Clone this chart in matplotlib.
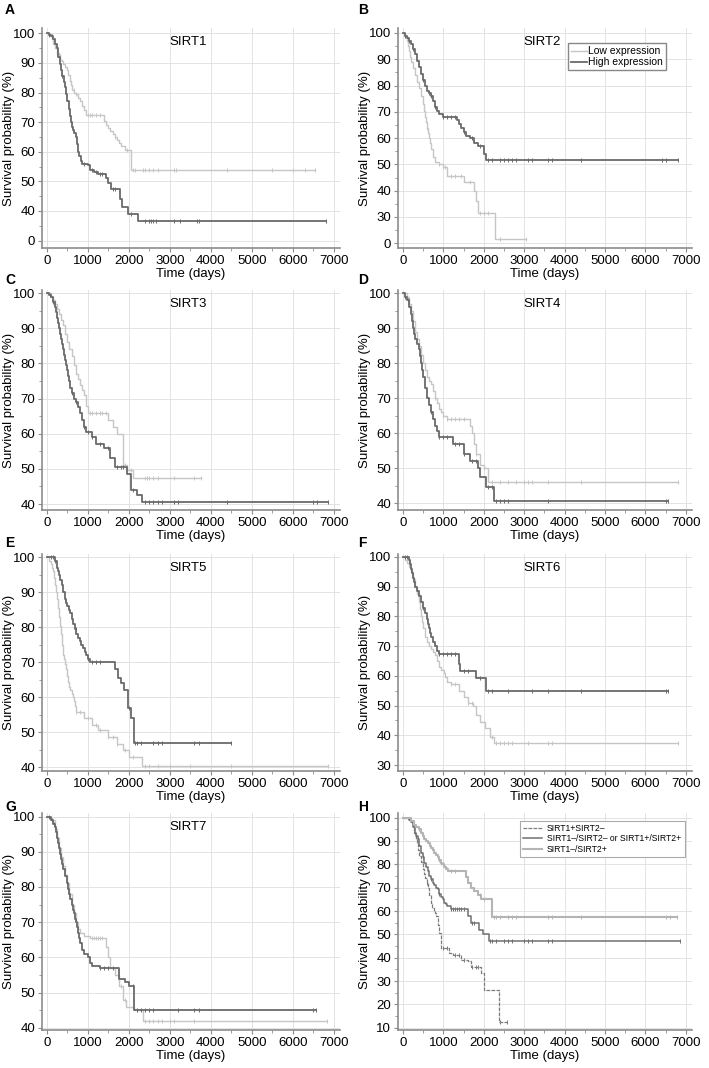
import numpy as np
import matplotlib.pyplot as plt
from matplotlib.ticker import MultipleLocator

plt.rcParams['font.family'] = ['Liberation Sans', 'DejaVu Sans']

LOW = '#c6c6c6'
HIGH = '#6a6a6a'

# ---------------- A: SIRT1
a_low_t = [0, 80, 120, 160, 200, 250, 320, 360, 400, 440, 480, 520, 560, 590, 620, 660, 700, 750, 800, 850, 900, 960,
           1400, 1450, 1500, 1550, 1600, 1650, 1700, 1750, 1800, 1900, 2050, 6550]
a_low_s = [100, 99, 98, 96.5, 95, 93, 91, 90.5, 89.5, 88.5, 87.5, 86, 84, 82.5, 81, 80, 79.5, 78, 77, 75.5, 74, 72.5,
           70.5, 69, 68, 67, 66, 65, 64, 63, 62, 60.5, 54, 54]
a_low_c = [300, 650, 700, 1000, 1050, 1100, 1200, 1300, 1650, 1950, 2100, 2150, 2350, 2400, 2500, 2600, 2700, 3100, 3150,
           4400, 5500, 6000, 6300, 6550]
a_high_t = [0, 50, 100, 150, 200, 240, 280, 320, 350, 380, 410, 440, 470, 500, 530, 560, 580, 610, 640, 670, 700, 730,
            760, 790, 820, 860, 1000, 1050, 1150, 1250, 1450, 1500, 1560, 1780, 1820, 1980, 2220, 6800]
a_high_s = [100, 99.5, 99, 98, 96.5, 95, 92, 89.5, 87.5, 85.5, 83.5, 82, 79.5, 77, 74.5, 72, 70, 68.5, 67.5, 66.5, 65,
            62.5, 60, 58.5, 57, 56, 55.5, 54, 53, 52.5, 51, 49.5, 47.5, 44, 41.5, 39, 36.5, 36.5]
a_high_c = [60, 120, 380, 640, 700, 900, 1100, 1200, 1300, 1350, 1600, 1650, 2050, 2400, 2500, 2550, 2600, 2650, 3100,
            3250, 3650, 3700, 6800]

# ---------------- B: SIRT2
b_low_t = [0, 60, 100, 125, 150, 175, 200, 250, 300, 350, 400, 450, 500, 525, 550, 575, 600, 625, 650, 675, 700, 750,
           800, 900, 1000, 1100, 1500, 1750, 1800, 1860, 2270, 3050]
b_low_s = [100, 99, 97, 95, 93, 91, 89, 86.5, 84, 81.5, 79, 76, 73, 70.5, 68, 66, 64, 62, 60, 58, 56, 53,
           51, 50, 49, 45.5, 43.2, 40, 36, 31.5, 21.5, 21.5]
b_low_c = [600, 900, 1000, 1050, 1200, 1300, 1450, 1650, 1900, 2000, 2100, 2400, 3050]
b_high_t = [0, 50, 100, 150, 200, 250, 300, 350, 400, 450, 500, 550, 600, 650, 700, 750, 800, 850, 900, 1000,
            1350, 1400, 1450, 1500, 1550, 1650, 1750, 1850, 2000, 2065, 6800]
b_high_s = [100, 99, 98, 97, 96, 94, 92, 89.5, 87, 84.5, 82, 80, 78, 77, 76, 74, 72, 70.5, 69, 68,
            67, 65.5, 64, 62.5, 61, 60, 58, 57, 54, 51.7, 51.7]
b_high_c = [50, 150, 250, 500, 650, 700, 800, 1000, 1100, 1200, 1300, 1500, 1700, 1900, 2100, 2200, 2400, 2500, 2600,
            2700, 2800, 3100, 3200, 3600, 3700, 4400, 6400, 6500, 6800]

# ---------------- C: SIRT3
c_low_t = [0, 100, 150, 200, 250, 300, 350, 400, 450, 500, 550, 600, 650, 700, 750, 800, 850, 900, 950, 1000,
           1500, 1600, 1700, 1850, 1950, 2100, 3750]
c_low_s = [100, 99, 98, 97, 95.5, 94, 92.5, 91, 88.5, 86, 84, 82, 79.5, 77, 75.5, 74, 72.5, 71, 68, 66,
           64, 62, 60, 51, 49.6, 47.5, 47.5]
c_low_c = [1050, 1100, 1200, 1300, 1350, 1450, 1900, 1950, 2050, 2400, 2450, 2500, 2600, 2700, 3100, 3600, 3750]
c_high_t = [0, 50, 100, 150, 200, 225, 250, 275, 300, 325, 350, 375, 400, 425, 450, 475, 500, 525, 550, 575, 600,
            650, 700, 750, 800, 850, 900, 950, 1100, 1200, 1400, 1550, 1650, 1950, 2050, 2200, 2320, 6850]
c_high_s = [100, 99.5, 99, 97.5, 96, 94.5, 93, 91.5, 90, 88.5, 87, 85.5, 84, 82.5, 81, 79.5, 78, 76.5, 75, 73, 71.5,
            70, 69, 67.5, 66, 64, 62, 60.5, 59, 57, 56, 53, 50.5, 48.5, 44, 42.5, 40.5, 40.5]
c_high_c = [80, 150, 600, 700, 900, 1000, 1100, 1300, 1500, 1700, 1800, 1850, 2100, 2400, 2500, 2600, 2700, 2800, 3100,
            3200, 4400, 6500, 6600, 6850]

# ---------------- D: SIRT4
d_low_t = [0, 100, 150, 200, 250, 300, 350, 400, 450, 500, 550, 600, 650, 700, 750, 800, 850, 900, 950, 1000, 1080,
           1650, 1700, 1750, 1800, 1900, 2000, 2100, 6800]
d_low_s = [100, 99, 97, 95, 92, 89, 87, 85, 82.5, 80, 78, 76, 75, 74, 72, 70, 68.5, 67, 66, 65, 64,
           62, 60, 57, 54, 51, 50, 46, 46]
d_low_c = [800, 1000, 1100, 1200, 1300, 1400, 1500, 1800, 2000, 2200, 2400, 2600, 2800, 3000, 3100, 3200, 3600, 4400,
           6800]
d_high_t = [0, 50, 100, 150, 200, 225, 250, 275, 300, 350, 400, 425, 450, 475, 500, 550, 600, 650, 700, 750, 800, 850,
            900, 1250, 1500, 1650, 1850, 1900, 2060, 2260, 6550]
d_high_s = [100, 99, 98, 96, 94, 92, 90, 88.5, 87, 85.5, 84, 82, 80, 78, 76, 73, 70, 68, 66, 64, 62, 60.5,
            59, 57, 54, 52, 50, 47.5, 44.5, 40.5, 40.5]
d_high_c = [60, 120, 700, 900, 1000, 1100, 1300, 1400, 1500, 1700, 1800, 2100, 2200, 2300, 2400, 2500, 2600, 3600,
            6500, 6550]

# ---------------- E: SIRT5
e_low_t = [0, 60, 100, 125, 150, 175, 200, 225, 250, 275, 300, 325, 350, 375, 400, 425, 450, 475, 500, 525, 550, 575,
           600, 625, 650, 675, 700, 900, 1100, 1250, 1500, 1700, 1850, 2000, 2330, 6850]
e_low_s = [100, 99, 98, 97, 96, 94, 92, 90, 88, 85.5, 83, 80.5, 78, 75, 72, 71, 69.5, 68, 66, 64.5, 63, 62,
           61, 60, 59, 57.5, 55.7, 54, 52, 50.5, 48.6, 46.7, 44.8, 43, 40.3, 40.3]
e_low_c = [700, 800, 1000, 1200, 1300, 1500, 1600, 1700, 1900, 2100, 2400, 2500, 2700, 3000, 3500, 4500, 6850]
e_high_t = [0, 200, 240, 270, 300, 330, 360, 400, 440, 470, 500, 530, 560, 600, 640, 680, 720, 760, 800, 840, 880, 920,
            950, 1000, 1040, 1650, 1730, 1800, 1885, 1970, 2050, 2130, 4490]
e_high_s = [100, 99, 97, 96, 95, 93.5, 92, 90, 88, 87, 86, 85, 84, 82.5, 81, 79.5, 78, 77, 76, 75, 74, 73,
            72, 71, 70, 68, 65.5, 64, 62, 57, 54, 47, 47]
e_high_c = [100, 150, 200, 450, 700, 1000, 1100, 1200, 1300, 2000, 2150, 2200, 2300, 2600, 2700, 2800, 3600, 3700, 4490]

# ---------------- F: SIRT6
f_low_t = [0, 50, 100, 150, 200, 250, 300, 350, 400, 425, 450, 475, 500, 550, 600, 647, 700, 750, 800, 850, 900, 950,
           1011, 1050, 1100, 1200, 1400, 1500, 1600, 1740, 1820, 1901, 2022, 2144, 2265, 6800]
f_low_s = [100, 99, 98, 96.5, 95, 92.5, 90, 87.5, 85, 82.5, 80, 78, 76, 73, 71.5, 70, 69, 68, 67, 65, 63, 62,
           61, 59.5, 58, 57.4, 55, 53, 51, 50, 47, 44.6, 42.4, 39.6, 37.4, 37.4]
f_low_c = [1200, 1300, 1600, 1700, 2200, 2300, 2400, 2500, 2600, 2700, 3100, 3600, 3700, 6800]
f_high_t = [0, 150, 175, 200, 225, 250, 275, 300, 350, 400, 450, 500, 550, 600, 625, 650, 675, 700, 750, 800, 850, 900,
            1380, 1420, 1820, 2063, 6550]
f_high_s = [100, 99, 97.5, 96, 94.5, 93, 91.5, 90, 88.5, 87, 85, 83, 81, 79, 77.5, 76, 74.5, 73, 71.5, 70, 68.5, 67.5,
            64, 61.5, 59.3, 55, 55]
f_high_c = [50, 100, 150, 500, 600, 900, 1000, 1100, 1200, 1300, 1500, 1600, 1900, 2100, 2200, 2600, 3200, 3600, 4400,
            6500, 6550]

# ---------------- G: SIRT7
g_low_t = [0, 100, 200, 250, 300, 350, 400, 450, 500, 550, 600, 650, 700, 750, 800, 900, 1050, 1450, 1500, 1550, 1650,
           1750, 1850, 1930, 2130, 2333, 6838]
g_low_s = [100, 99, 96.5, 94, 91, 88.5, 86, 83.5, 81, 78, 75, 72.5, 70, 68, 67, 66, 65.5, 63, 60, 57, 55,
           52, 48, 46, 45, 42, 42]
g_low_c = [1100, 1150, 1200, 1250, 1300, 1350, 1800, 1900, 2200, 2300, 2400, 2500, 2600, 2700, 2800, 3000, 3100, 3600,
           6838]
g_high_t = [0, 100, 150, 200, 225, 250, 275, 300, 325, 350, 375, 400, 450, 500, 525, 550, 575, 600, 625, 650, 675, 700,
            725, 750, 775, 800, 850, 900, 1000, 1050, 1100, 1290, 1770, 1900, 2010, 2116, 6557]
g_high_s = [100, 99, 98, 97, 95.5, 94, 92.5, 91, 89.5, 88, 86.5, 85, 83, 81, 79.5, 78, 76.5, 75, 73.5, 72.5, 71, 70,
            68.5, 67, 65.5, 64, 62, 61, 60, 58.5, 57.5, 57, 54, 53, 52, 45, 45]
g_high_c = [60, 120, 180, 500, 1300, 1400, 1500, 1600, 2100, 2200, 2300, 2400, 2500, 2600, 3200, 3600, 3700, 6500, 6557]

# ---------------- H: SIRT1/SIRT2 combined
h1_t = [0, 150, 200, 250, 287, 320, 350, 380, 410, 450, 492, 530, 560, 590, 615, 650, 697, 730, 760, 790, 820, 860, 902,
        943, 1150, 1250, 1435, 1600, 1680, 1930, 2010, 2380, 2580]
h1_s = [100, 99, 98, 97, 93.6, 91, 89, 86, 83.6, 81, 77.9, 76, 74, 72, 70, 67, 63.6, 61.5, 60, 59, 57.9, 54, 50.7,
        44.3, 42, 41, 39, 38.5, 36, 33.5, 26, 12.5, 12.5]
h1_c = [600, 1000, 1100, 1300, 1400, 1500, 1700, 1800, 1850, 2400, 2580]
h2_t = [0, 150, 200, 250, 300, 335, 369, 410, 450, 490, 533, 570, 610, 650, 697, 740, 780, 820, 861, 900, 950, 990,
        1025, 1060, 1100, 1189, 1600, 1680, 1887, 1970, 2130, 6850]
h2_s = [100, 99, 98, 96, 93.5, 92, 90.7, 88, 85, 83, 80.7, 79, 77, 75, 73.6, 72, 71, 70, 69.3, 67.5, 66, 65,
        63.6, 62.8, 62, 60.7, 58, 55, 52, 50, 47.1, 47.1]
h2_c = [500, 700, 900, 1200, 1250, 1300, 1350, 1400, 1450, 1500, 1700, 1750, 2150, 2200, 2300, 2500, 2600, 2700, 3000,
        3100, 3200, 3600, 3700, 6850]
h3_t = [0, 205, 270, 330, 390, 451, 490, 530, 570, 615, 660, 700, 740, 779, 820, 860, 900, 943, 980, 1020, 1060, 1107,
        1559, 1620, 1682, 1760, 1846, 1930, 2200, 6768]
h3_s = [100, 98.6, 97, 96, 95, 93.6, 92, 91, 90, 89.3, 88, 87, 86, 85, 84, 83, 82, 80.7, 80, 79, 78, 77.1,
        74.5, 72, 70, 68.6, 67, 65, 57.3, 57.3]
h3_c = [400, 500, 900, 950, 1000, 1050, 1100, 1200, 1300, 1900, 2000, 2250, 2300, 2400, 2600, 2700, 2800, 3600, 3700,
        4400, 6500, 6600, 6768]

labels = ['A', 'B', 'C', 'D', 'E', 'F', 'G', 'H']
titles = ['SIRT1', 'SIRT2', 'SIRT3', 'SIRT4', 'SIRT5', 'SIRT6', 'SIRT7', '']
ylims = [(27.5, 101.8), (18.2, 101.9), (38.3, 100.9), (38.0, 101.0),
         (38.9, 101.0), (28.0, 101.0), (39.4, 101.0), (9.0, 102.0)]
ybottom = [30, 20, 40, 40, 40, 30, 40, 10]


def km(ax, t, s, cens, color, lw, ls='-'):
    ax.step(t, s, where='post', color=color, lw=lw, ls=ls)
    t = np.array(t)
    s = np.array(s)
    idx = np.searchsorted(t, cens, side='right') - 1
    ax.plot(cens, s[idx], '|', color=color, ms=3.5, mew=0.7)


fig = plt.figure(figsize=(7.09, 10.68), dpi=100)
W, H = 709, 1068
cols = [(42, 340), (398, 692)]
rows = [(28, 248), (290, 510), (554, 771), (813, 1030)]

axes = []
for i in range(8):
    (x0, x1), (y0, y1) = cols[i % 2], rows[i // 2]
    ax = fig.add_axes([x0 / W, 1 - y1 / H, (x1 - x0) / W, (y1 - y0) / H])
    axes.append(ax)

curves = [
    [(a_low_t, a_low_s, a_low_c), (a_high_t, a_high_s, a_high_c)],
    [(b_low_t, b_low_s, b_low_c), (b_high_t, b_high_s, b_high_c)],
    [(c_low_t, c_low_s, c_low_c), (c_high_t, c_high_s, c_high_c)],
    [(d_low_t, d_low_s, d_low_c), (d_high_t, d_high_s, d_high_c)],
    [(e_low_t, e_low_s, e_low_c), (e_high_t, e_high_s, e_high_c)],
    [(f_low_t, f_low_s, f_low_c), (f_high_t, f_high_s, f_high_c)],
    [(g_low_t, g_low_s, g_low_c), (g_high_t, g_high_s, g_high_c)],
]

for i, ax in enumerate(axes):
    if i < 7:
        low, high = curves[i]
        km(ax, *low, LOW, 1.0)
        km(ax, *high, HIGH, 1.3)
        ax.text(0.49, 0.935, titles[i], transform=ax.transAxes, ha='center',
                va='center', fontsize=9.5)
    else:
        km(ax, h1_t, h1_s, h1_c, '#7c7c7c', 0.9, (0, (3, 1)))
        km(ax, h2_t, h2_s, h2_c, '#707070', 1.1)
        km(ax, h3_t, h3_s, h3_c, '#b4b4b4', 1.5)

    ax.set_xlim(-120, 7150)
    ax.set_ylim(*ylims[i])
    ax.set_xticks(range(0, 7001, 1000))
    ax.xaxis.set_minor_locator(MultipleLocator(500))
    yt = list(range(ybottom[i], 101, 10))
    ax.set_yticks(yt)
    ylab = [str(v) for v in yt]
    if i in (0, 1):
        ylab[0] = '0'
    ax.set_yticklabels(ylab)
    ax.yaxis.set_minor_locator(MultipleLocator(5))
    ax.grid(True, which='major', color='#dedede', lw=0.6)
    ax.set_axisbelow(True)
    for side in ('top', 'right'):
        ax.spines[side].set_visible(False)
    for side in ('left', 'bottom'):
        ax.spines[side].set_color('#8c8c8c')
        ax.spines[side].set_linewidth(1.2)
    ax.tick_params(which='both', direction='out', color='#8c8c8c', labelsize=9.5, pad=2)
    ax.tick_params(which='major', length=3)
    ax.tick_params(which='minor', length=2)
    ax.set_xlabel('Time (days)', fontsize=9.5, labelpad=1)
    ax.set_ylabel('Survival probability (%)', fontsize=9.5)
    ax.yaxis.set_label_coords(-0.092, 0.5)
    fx = 5 if i % 2 == 0 else 358
    fy = [10, 280, 543, 807][i // 2]
    fig.text(fx / W, 1 - fy / H, labels[i], fontsize=10, fontweight='bold', va='center')

leg = axes[1].legend(axes[1].lines[0:1] + axes[1].lines[2:3], ['Low expression', 'High expression'],
                     loc='upper right', bbox_to_anchor=(0.93, 0.955), fontsize=7.5,
                     handlelength=1.6, handletextpad=0.1, borderpad=0.3, labelspacing=0.1,
                     fancybox=False, edgecolor='#888888', framealpha=1)
leg.get_frame().set_linewidth(1.0)

hl = axes[7].lines
leg = axes[7].legend([hl[0], hl[2], hl[4]],
                     ['SIRT1+SIRT2\u2013', 'SIRT1\u2013/SIRT2\u2013 or SIRT1+/SIRT2+', 'SIRT1\u2013/SIRT2+'],
                     loc='upper right', bbox_to_anchor=(0.99, 0.985), fontsize=6.2,
                     handlelength=2.2, handletextpad=0.6, borderpad=0.4, labelspacing=0.15,
                     fancybox=False, edgecolor='#aaaaaa', framealpha=1)
leg.get_frame().set_linewidth(0.8)

fig.savefig('out.png', dpi=100)
